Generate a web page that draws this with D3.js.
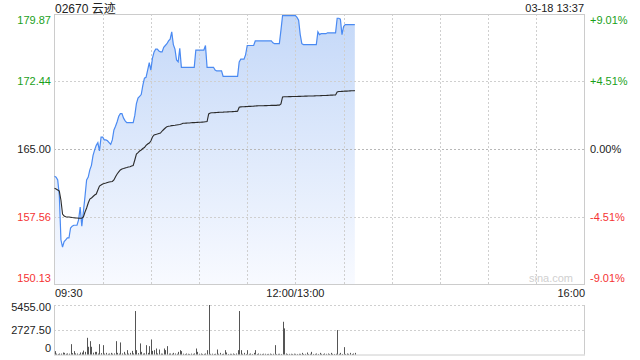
<!DOCTYPE html>
<html><head><meta charset="utf-8">
<script src="https://cdn.jsdelivr.net/npm/d3@7/dist/d3.min.js"></script>
<style>
html,body{margin:0;padding:0;background:#fff;}
svg{display:block;font-family:"Liberation Sans",Arial,"Noto Sans CJK SC",sans-serif;}
</style></head>
<body><svg id="c" width="640" height="360"></svg>
<script>
const title = "02670 云迹";
const stamp = "03-18 13:37";
const prevClose = 165.00;
const priceTicks = [179.87, 172.44, 165.00, 157.56, 150.13];
const pctTicks = ["+9.01%", "+4.51%", "0.00%", "-4.51%", "-9.01%"];
const timeLabels = ["09:30", "12:00/13:00", "16:00"];
const volTicks = [5455.00, 2727.50, 0];
const volTickLabels = ["5455.00", "2727.50", "0"];

// one value per minute, 09:30 .. 13:37 (12:00 and 13:00 share a slot)
const price = [162.0,161.9,161.6,159.9,155.0,154.2,154.8,155.0,155.2,155.2,
156.3,156.5,156.6,156.6,156.6,157.2,158.6,156.5,158.1,159.8,
161.6,161.9,162.7,163.2,164.3,164.9,165.4,165.7,164.8,166.3,
166.3,166.0,166.0,165.9,165.7,165.5,166.0,167.1,167.5,168.0,
168.6,168.9,168.9,168.4,168.1,167.9,167.9,167.9,167.9,167.9,
168.7,170.0,170.6,170.8,171.0,172.0,172.8,172.9,173.7,174.5,
173.7,175.0,175.7,176.0,176.0,175.8,175.7,175.7,176.2,176.4,
176.6,176.9,177.1,177.9,176.5,176.0,174.8,174.6,176.1,174.0,
174.0,174.0,174.0,174.0,174.0,174.0,174.0,174.0,175.9,175.9,
175.9,175.9,175.9,175.9,176.4,174.0,174.0,174.0,174.0,174.0,
173.7,173.6,173.6,173.6,173.6,173.0,173.0,173.0,173.0,173.0,
173.0,173.0,173.0,173.0,173.0,174.6,174.9,174.9,174.9,175.4,
176.4,176.4,176.4,176.4,176.4,176.9,176.9,176.9,176.9,176.9,
176.9,176.9,176.9,176.9,176.9,176.9,176.7,176.6,176.6,176.6,
176.6,178.1,179.7,179.7,179.7,179.7,179.7,179.7,179.7,179.7,
179.7,179.5,179.2,177.6,176.6,176.5,176.5,176.5,176.5,176.5,
176.5,176.5,176.5,176.5,177.9,177.6,177.7,177.7,177.7,177.7,
177.8,177.8,177.8,177.8,177.8,177.8,179.4,179.4,179.3,177.6,
178.5,178.7,178.7,178.7,178.7,178.7,178.7,178.7];

const avgPrice = [160.67,160.59,160.48,160.37,159.38,157.84,157.62,157.54,157.51,157.51,
157.48,157.45,157.43,157.40,157.40,157.38,157.37,157.37,157.51,158.06,
158.50,159.05,159.49,159.60,159.77,159.93,160.04,160.48,160.92,161.03,
161.14,161.20,161.25,161.31,161.36,161.40,161.42,161.59,161.95,162.25,
162.47,162.69,162.80,162.85,162.91,162.96,163.02,163.05,163.13,163.18,
163.79,164.45,164.61,164.78,164.89,165.05,165.16,165.39,165.55,165.66,
165.88,166.32,166.54,166.60,166.65,166.71,166.76,166.98,167.15,167.31,
167.46,167.50,167.53,167.57,167.59,167.61,167.64,167.67,167.70,167.75,
167.83,167.84,167.85,167.86,167.87,167.89,167.90,167.91,167.92,167.93,
167.94,167.95,167.96,167.97,168.00,168.03,168.86,168.97,168.99,169.00,
169.01,169.02,169.03,169.04,169.05,169.06,169.08,169.08,169.09,169.10,
169.11,169.12,169.13,169.14,169.15,169.59,169.64,169.65,169.66,169.67,
169.68,169.69,169.70,169.71,169.72,169.74,169.75,169.76,169.76,169.77,
169.77,169.78,169.78,169.79,169.79,169.80,169.80,169.81,169.81,169.83,
169.83,169.96,170.73,170.75,170.76,170.76,170.77,170.77,170.78,170.78,
170.79,170.79,170.80,170.80,170.81,170.81,170.82,170.82,170.83,170.83,
170.84,170.84,170.85,170.86,170.87,170.87,170.88,170.89,170.90,170.90,
170.91,170.92,170.93,170.93,170.94,170.95,171.28,171.33,171.34,171.35,
171.36,171.37,171.38,171.39,171.40,171.41,171.42,171.43];

const volume = [370,100,60,110,100,220,180,80,120,90,
1140,150,370,120,110,60,220,220,430,290,
1840,850,1470,850,200,290,290,110,1140,150,
1030,100,180,80,110,180,90,120,1470,180,
100,1330,120,290,80,480,100,180,400,120,
4790,480,150,1220,290,100,130,1030,180,920,
1660,400,480,660,120,550,100,90,660,480,
920,100,110,80,180,110,80,290,480,370,
90,60,110,80,60,100,70,120,660,290,
80,110,60,70,110,480,5455,70,90,60,
80,550,80,180,60,90,480,220,60,80,
70,110,60,110,480,4790,480,80,180,60,
480,70,110,60,180,480,60,110,70,60,
90,80,60,70,100,60,80,1030,60,70,
80,60,3607,2877,110,60,70,80,60,90,
70,60,80,70,180,60,70,220,60,80,
290,60,70,110,60,180,70,60,110,70,
110,60,180,70,60,80,2690,70,180,60,
810,60,110,70,180,60,110,180];

const svg = d3.select("#c");
const L = 54, R = 585, T = 14, B = 284;
const VT = 305, VB = 354.5;
const green = "#1a9f1a", red = "#f53333", gridC = "#cfcfcf";

const x = d3.scaleLinear().domain([0, 330]).range([L + 0.5, R - 0.5]);
const y = d3.scaleLinear().domain([priceTicks[4], priceTicks[0]]).range([B, T]);
const yv = d3.scaleLinear().domain([0, volTicks[0]]).range([VB, VT]);

const defs = svg.append("defs");
const g = defs.append("linearGradient").attr("id", "ag")
  .attr("gradientUnits", "userSpaceOnUse").attr("x1", 0).attr("x2", 0).attr("y1", T).attr("y2", B);
g.append("stop").attr("offset", 0).attr("stop-color", "#c4d8f8");
g.append("stop").attr("offset", 1).attr("stop-color", "#f8faff");

// area
svg.append("path").datum(price)
  .attr("d", d3.area().x((d, i) => x(i)).y0(B).y1(d => y(d)))
  .attr("fill", "url(#ag)");

// vertical grid
const vg = d3.range(30, 330, 30);
svg.selectAll(".vg").data(vg).enter().append("line")
  .attr("x1", d => Math.round(x(d)) + 0.5).attr("x2", d => Math.round(x(d)) + 0.5)
  .attr("y1", T).attr("y2", B)
  .attr("stroke", gridC).attr("stroke-dasharray", "2,2");

// horizontal grid
svg.selectAll(".hg").data(priceTicks.slice(1, 4)).enter().append("line")
  .attr("x1", L).attr("x2", R)
  .attr("y1", d => Math.round(y(d)) + 0.5).attr("y2", d => Math.round(y(d)) + 0.5)
  .attr("stroke", (d) => d === prevClose ? "#b8b8b8" : gridC)
  .attr("stroke-dasharray", "2,2");

// frame
svg.append("rect").attr("x", L + 0.5).attr("y", T + 0.5).attr("width", R - L - 1).attr("height", B - T)
  .attr("fill", "none").attr("stroke", "#cccccc");

// lines
svg.append("path").datum(price)
  .attr("d", d3.line().x((d, i) => x(i)).y(d => y(d)))
  .attr("fill", "none").attr("stroke", "#4a8af2").attr("stroke-width", 1.2);
svg.append("path").datum(avgPrice)
  .attr("d", d3.line().x((d, i) => x(i)).y(d => y(d)))
  .attr("fill", "none").attr("stroke", "#2b2b2b").attr("stroke-width", 1.1);

// left labels
const colorFor = v => v > prevClose ? green : (v < prevClose ? red : "#222");
const labY = (v, i) => i === 0 ? T + 10 : (i === 4 ? B - 2.5 : y(v) + 4);
svg.selectAll(".ll").data(priceTicks).enter().append("text")
  .attr("x", 51).attr("y", (d, i) => labY(d, i))
  .attr("text-anchor", "end").attr("font-size", 11).attr("fill", colorFor)
  .text(d => d.toFixed(2));
svg.selectAll(".rl").data(pctTicks).enter().append("text")
  .attr("x", 590).attr("y", (d, i) => labY(priceTicks[i], i))
  .attr("text-anchor", "start").attr("font-size", 11).attr("fill", (d, i) => colorFor(priceTicks[i]))
  .text(d => d);

// title and time stamp
svg.append("text").attr("x", 55).attr("y", 12.5).attr("font-size", 12).attr("fill", "#222").text(title);
svg.append("text").attr("x", 584).attr("y", 12).attr("font-size", 11).attr("text-anchor", "end").attr("fill", "#222").text(stamp);

// watermark
svg.append("text").attr("x", 573).attr("y", 282).attr("font-size", 11).attr("text-anchor", "end")
  .attr("fill", "#d0d0d0").text("sina.com");

// time labels
svg.append("text").attr("x", 55).attr("y", 297).attr("font-size", 11).attr("fill", "#222").text(timeLabels[0]);
svg.append("text").attr("x", x(150)).attr("y", 297).attr("font-size", 11).attr("text-anchor", "middle").attr("fill", "#222").text(timeLabels[1]);
svg.append("text").attr("x", 585).attr("y", 297).attr("font-size", 11).attr("text-anchor", "end").attr("fill", "#222").text(timeLabels[2]);

// volume panel
svg.selectAll(".vgl").data(volTicks.slice(0, 2)).enter().append("line")
  .attr("x1", L).attr("x2", R)
  .attr("y1", d => Math.round(yv(d)) + 0.5).attr("y2", d => Math.round(yv(d)) + 0.5)
  .attr("stroke", gridC).attr("stroke-dasharray", "2,2");
svg.append("line").attr("x1", L + 0.5).attr("x2", L + 0.5).attr("y1", VT).attr("y2", VB).attr("stroke", "#ccc");
svg.append("line").attr("x1", R - 0.5).attr("x2", R - 0.5).attr("y1", VT).attr("y2", VB).attr("stroke", "#ccc");
svg.append("line").attr("x1", L).attr("x2", R).attr("y1", VB + 0.5).attr("y2", VB + 0.5).attr("stroke", "#ccc");

svg.selectAll(".vb").data(volume).enter().append("rect")
  .attr("x", (d, i) => Math.round(x(i)))
  .attr("width", 1)
  .attr("y", d => yv(d))
  .attr("height", d => VB - yv(d))
  .attr("fill", "#555");

svg.selectAll(".vl").data(volTicks).enter().append("text")
  .attr("x", 51).attr("y", (d, i) => i === 2 ? 352 : yv(d) + 4 + (i === 0 ? 1.5 : 0))
  .attr("text-anchor", "end").attr("font-size", 11).attr("fill", "#222")
  .text((d, i) => volTickLabels[i]);
</script></body></html>
